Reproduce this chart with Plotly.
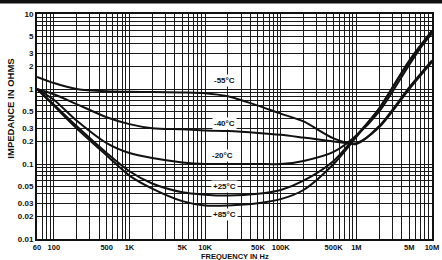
import math
import plotly.graph_objects as go

freq = [60, 100, 200, 500, 1e3, 2e3, 5e3, 1e4, 2e4, 5e4, 1e5, 2e5, 5e5, 1e6, 2e6, 5e6, 1e7]

z_m55 = [1.45, 1.2, 1.0, 0.93, 0.92, 0.91, 0.9, 0.88, 0.8, 0.6, 0.47, 0.37, 0.22, 0.185, 0.32, 1.05, 2.4]
z_m40 = [1.0, 0.85, 0.63, 0.42, 0.34, 0.30, 0.29, 0.28, 0.275, 0.26, 0.245, 0.225, 0.2, 0.19, 0.31, 1.0, 2.3]
z_m20 = [1.0, 0.72, 0.38, 0.19, 0.14, 0.12, 0.105, 0.1, 0.1, 0.1, 0.1, 0.11, 0.145, 0.24, 0.5, 2.1, 6.0]
z_p25 = [1.0, 0.62, 0.32, 0.14, 0.08, 0.055, 0.042, 0.039, 0.038, 0.04, 0.045, 0.06, 0.11, 0.24, 0.55, 2.3, 5.5]
z_p85 = [1.0, 0.6, 0.3, 0.13, 0.07, 0.047, 0.032, 0.028, 0.028, 0.03, 0.034, 0.045, 0.1, 0.23, 0.55, 2.4, 6.0]

series = [("-55°C", z_m55), ("-40°C", z_m40), ("-20°C", z_m20), ("+25°C", z_p25), ("+85°C", z_p85)]
label_f = [18000, 18000, 17000, 18000, 18000]
label_z = [1.28, 0.35, 0.128, 0.05, 0.0215]

x_labeled = {60: "60", 100: "100", 500: "500", 1e3: "1K", 5e3: "5K", 1e4: "10K",
             5e4: "50K", 1e5: "100K", 5e5: "500K", 1e6: "1M", 5e6: "5M", 1e7: "10M"}
y_labeled = {10: "10", 5: "5", 3: "3", 2: "2", 1: "1", 0.5: "0.5", 0.3: "0.3", 0.2: "0.2",
             0.1: "0.1", 0.05: "0.05", 0.03: "0.03", 0.02: "0.02", 0.01: "0.01"}

xt = [60, 70, 80, 90]
for d in [100, 1e3, 1e4, 1e5, 1e6]:
    xt += [d * k for k in range(1, 10)]
xt.append(1e7)
yt = []
for d in [0.01, 0.1, 1]:
    yt += [round(d * k, 4) for k in range(1, 10)]
yt.append(10)

def lab(v, m):
    for k, s in m.items():
        if abs(v - k) / k < 1e-6:
            return "<b>" + s + "</b>"
    return ""

fig = go.Figure()
for name, z in series:
    fig.add_trace(go.Scatter(x=freq, y=z, mode="lines", name=name,
                             line=dict(color="#111", width=2, shape="spline", smoothing=0.8),
                             showlegend=False, hoverinfo="skip"))
for (name, _), f, z in zip(series, label_f, label_z):
    fig.add_annotation(x=math.log10(f), y=math.log10(z), text="<b>" + name + "</b>",
                       showarrow=False, font=dict(size=8, color="#111"), bgcolor="white")

axis_common = dict(type="log", showgrid=True, gridcolor="#1a1a1a", gridwidth=1, ticks="",
                   showline=True, linecolor="#111", linewidth=2, mirror=True, zeroline=False,
                   automargin=False)
fig.update_xaxes(range=[1.778, 7], tickvals=xt, ticktext=[lab(v, x_labeled) for v in xt],
                 tickangle=0, tickfont=dict(size=7.5, color="#111", family="Liberation Sans"),
                 **axis_common)
fig.update_yaxes(range=[-2, 1], tickvals=yt, ticktext=[lab(v, y_labeled) for v in yt],
                 tickfont=dict(size=8, color="#111", family="Liberation Sans"),
                 **axis_common)

fig.add_annotation(xref="paper", yref="paper", x=0.5, y=-0.079, text="<b>FREQUENCY IN Hz</b>",
                   showarrow=False, font=dict(size=7.5, color="#111"), yanchor="middle")
fig.add_annotation(xref="paper", yref="paper", x=-0.068, y=0.58, text="<b>IMPEDANCE IN OHMS</b>",
                   showarrow=False, font=dict(size=9.5, color="#111"), textangle=-90,
                   xanchor="center", yanchor="middle")

fig.add_shape(type="rect", xref="paper", yref="paper", x0=-0.2, x1=1.1, y0=1.047, y1=1.12,
              fillcolor="#111", line=dict(width=0))

fig.update_layout(width=442, height=260, margin=dict(l=37, r=10, t=14, b=21),
                  paper_bgcolor="white", plot_bgcolor="white", hovermode=False,
                  font=dict(family="Liberation Sans", color="#111"))
fig.write_html("out.html", config={"displayModeBar": False},
               post_script="document.body.style.margin='0';document.body.style.overflow='hidden';")
